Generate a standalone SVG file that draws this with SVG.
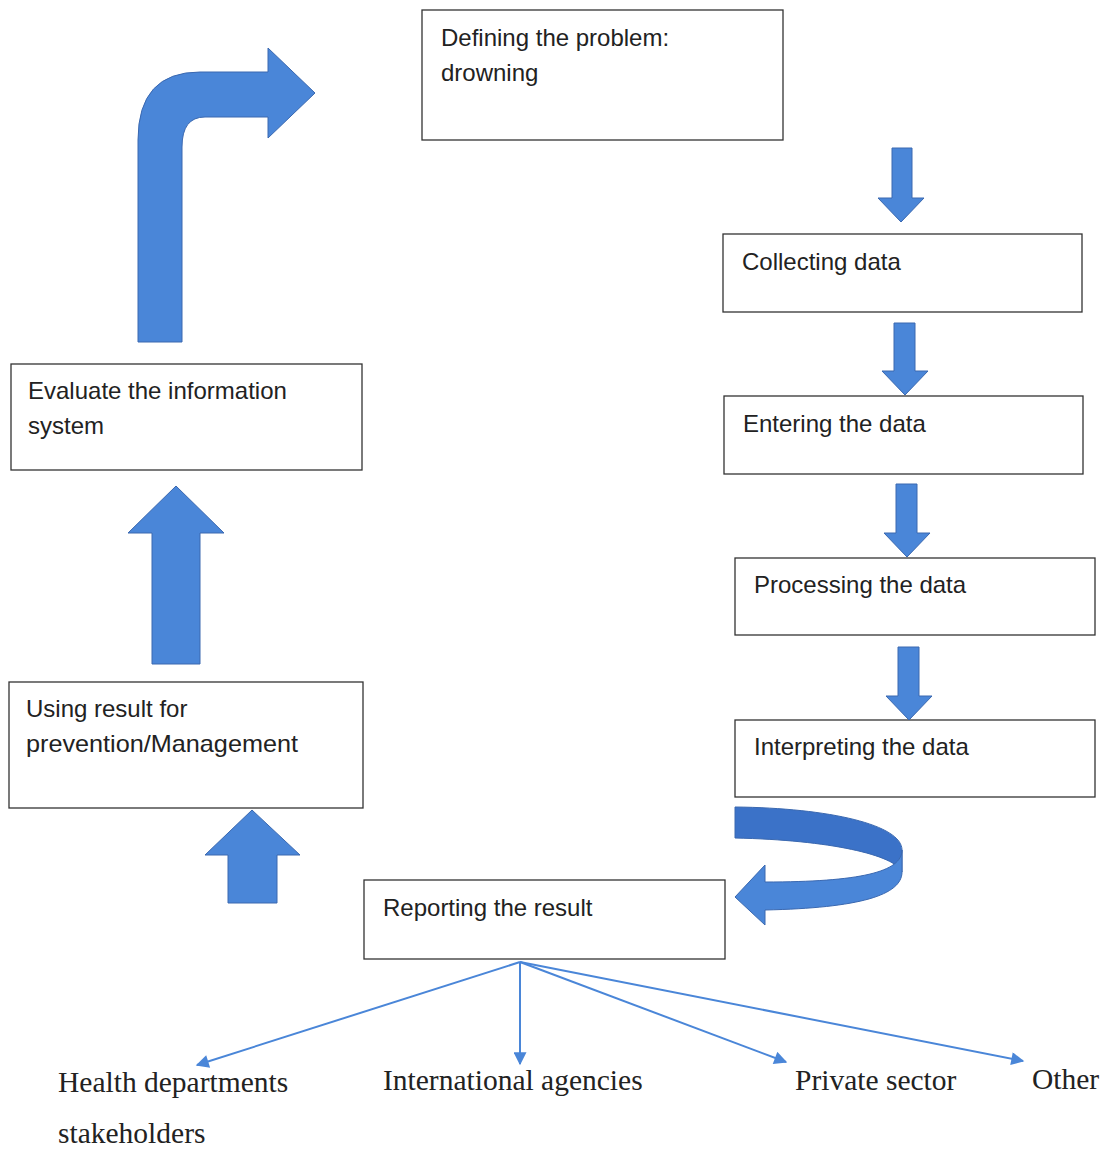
<svg xmlns="http://www.w3.org/2000/svg" width="1105" height="1150" viewBox="0 0 1105 1150">
<style>
.box{fill:#fff;stroke:#333;stroke-width:1.3}
.t{font-family:"Liberation Sans",Arial,sans-serif;font-size:24px;fill:#222}
.s{font-family:"Liberation Serif","Times New Roman",serif;font-size:29.5px;fill:#222}
.blk{fill:#4a86d8;stroke:#3a68b0;stroke-width:1}
.ln{stroke:#4a86d8;stroke-width:2;fill:none}
</style>
<defs>
<marker id="ah" viewBox="0 0 10 10" refX="9" refY="5" markerWidth="14" markerHeight="13" orient="auto" markerUnits="userSpaceOnUse">
<path d="M0,0 L10,5 L0,10 Z" fill="#4a86d8"/>
</marker>
</defs>
<rect width="1105" height="1150" fill="#fff"/>
<g id="n1"><rect class="box" x="422" y="10" width="361" height="130"/><text class="t" x="441" y="46">Defining the problem:</text><text class="t" x="441" y="81">drowning</text></g>
<g id="n2"><rect class="box" x="723" y="234" width="359" height="78"/><text class="t" x="742" y="270">Collecting data</text></g>
<g id="n3"><rect class="box" x="724" y="396" width="359" height="78"/><text class="t" x="743" y="432">Entering the data</text></g>
<g id="n4"><rect class="box" x="735" y="558" width="360" height="77"/><text class="t" x="754" y="593">Processing the data</text></g>
<g id="n5"><rect class="box" x="735" y="720" width="360" height="77"/><text class="t" x="754" y="755">Interpreting the data</text></g>
<g id="n6"><rect class="box" x="364" y="880" width="361" height="79"/><text class="t" x="383" y="916">Reporting the result</text></g>
<g id="n7"><rect class="box" x="9" y="682" width="354" height="126"/><text class="t" x="26" y="717">Using result for</text><text class="t" x="26" y="752" textLength="272" lengthAdjust="spacingAndGlyphs">prevention/Management</text></g>
<g id="n8"><rect class="box" x="11" y="364" width="351" height="106"/><text class="t" x="28" y="399">Evaluate the information</text><text class="t" x="28" y="434">system</text></g>
<g id="n9"><text class="s" x="58" y="1092">Health departments</text><text class="s" x="58" y="1143">stakeholders</text></g>
<g id="n10"><text class="s" x="383" y="1090">International agencies</text></g>
<g id="n11"><text class="s" x="795" y="1090">Private sector</text></g>
<g id="n12"><text class="s" x="1032" y="1089">Other</text></g>
<g id="connectors">
<path class="blk" d="M892,148 H912 V198 H924 L901,222 L878,198 H892 Z"/>
<path class="blk" d="M894,323 H915 V371 H928 L905,395 L882,371 H894 Z"/>
<path class="blk" d="M896,484 H917 V533 H930 L907,557 L884,533 H896 Z"/>
<path class="blk" d="M898,647 H919 V696 H932 L909,720 L886,696 H898 Z"/>
<path class="blk" d="M138,342 V140 Q138,72 200,72 H268 V48 L315,93 L268,138 V117 H205 Q182,117 182,147 V342 Z"/>
<path class="blk" d="M152,664 V533 H128 L176,486 L224,533 H200 V664 Z"/>
<path class="blk" d="M228,903 V855 H205 L252,810 L300,855 H277 V903 Z"/>
<path d="M735,807 C830,808 902,825 902,850 L902,872 C895,855 830,840 735,838 Z" fill="#3b72c8" stroke="#3a68b0" stroke-width="1"/>
<path class="blk" d="M902,850 C902,872 860,882 765,882 L765,865 L735,897 L765,925 L765,910 C860,908 902,895 902,872 Z"/>
<line class="ln" x1="520" y1="962" x2="197" y2="1065" marker-end="url(#ah)"/>
<line class="ln" x1="520" y1="962" x2="520" y2="1064" marker-end="url(#ah)"/>
<line class="ln" x1="520" y1="962" x2="786" y2="1062" marker-end="url(#ah)"/>
<line class="ln" x1="520" y1="962" x2="1023" y2="1061" marker-end="url(#ah)"/>
</g>
</svg>
